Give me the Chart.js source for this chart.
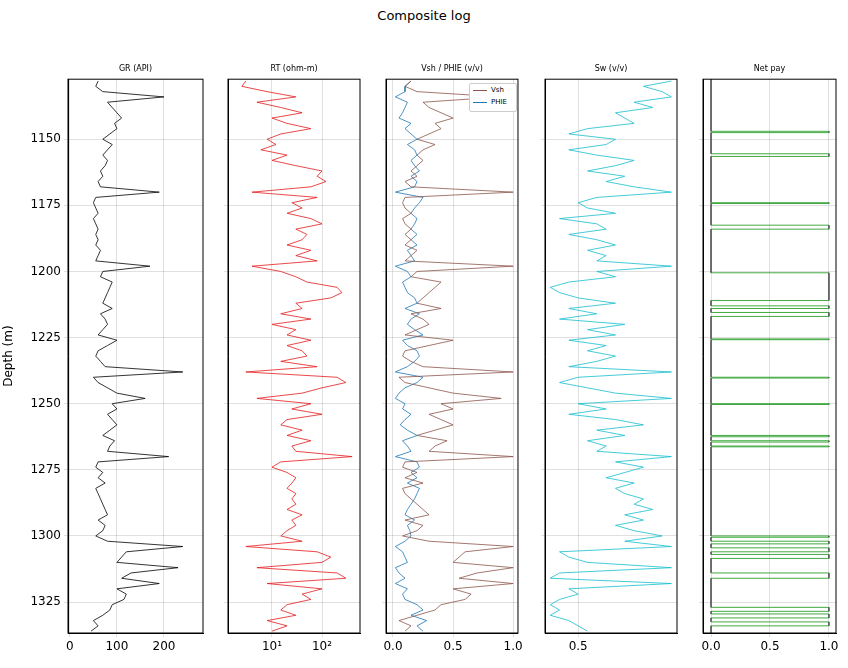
<!DOCTYPE html>
<html><head><meta charset="utf-8">
<script src="https://cdn.jsdelivr.net/npm/chart.js@4.4.1/dist/chart.umd.min.js"></script>
<style>
body{margin:0;width:848px;height:668px;background:#fff;font-family:"DejaVu Sans",sans-serif;position:relative;overflow:hidden}
canvas{position:absolute}
.t{position:absolute;font-size:8px;text-align:center;color:#000}
#leg{position:absolute;left:469px;top:83px;width:46px;height:27px;border:1px solid #ccc;border-radius:2px;background:#fff;font-size:7px;z-index:2}
#leg div{height:12px;line-height:12px;padding-left:3px}
#leg span{display:inline-block;width:14px;height:0;border-top:1px solid;vertical-align:middle;margin-right:4px}
</style></head><body>
<div class="t" style="left:0;width:848px;top:8px;font-size:13px">Composite log</div>
<div id="leg"><div><span style="border-color:#8c564b"></span>Vsh</div><div><span style="border-color:#1f77b4"></span>PHIE</div></div>
<script>
const depth = [];
for (let d = 1128; d <= 1336; d += 2) depth.push(d);

const gr = [60,55,70,200,80,90,100,110,95,100, 85,70,90,80,70,80,75,65,70,60,
  65,190,55,50,55,60,50,55,60,55, 60,55,65,60,55,170,70,65,90,85,
  80,75,70,90,65,75,80,70,60,100, 80,60,55,65,75,240,50,60,80,100,
  160,90,100,80,90,100,85,70,95,85, 80,210,60,55,70,60,75,55,60,65,
  70,75,80,60,75,70,55,80,240,120, 110,100,230,130,110,190,100,120,115,90,
  85,70,50,60,45];
const rt = [3,2.5,8,30,5,15,40,10,20,60, 15,8,12,6,20,10,30,100,80,120,
  60,4,80,25,40,20,60,100,30,50, 40,20,60,30,80,4,15,30,50,200,
  250,150,30,40,15,60,10,30,20,60, 20,40,50,15,80,3,200,300,100,40,
  5,60,25,100,20,15,40,20,60,25, 30,400,15,10,20,30,25,20,30,25,
  30,20,40,25,30,20,15,40,3,80, 150,100,5,200,300,8,100,40,60,20,
  15,30,8,20,10];
const vsh = [0.15,0.1,0.2,0.9,0.25,0.3,0.4,0.5,0.35,0.4, 0.3,0.2,0.35,0.25,0.2,0.25,0.2,0.15,0.2,0.1,
  0.15,1.0,0.1,0.08,0.1,0.15,0.08,0.1,0.15,0.1, 0.15,0.1,0.2,0.15,0.1,1.0,0.2,0.15,0.4,0.35,
  0.3,0.25,0.2,0.4,0.15,0.25,0.3,0.2,0.1,0.5, 0.3,0.1,0.08,0.15,0.25,1.0,0.05,0.1,0.3,0.5,
  0.9,0.4,0.5,0.3,0.4,0.5,0.35,0.2,0.45,0.35, 0.3,1.0,0.1,0.08,0.2,0.1,0.25,0.08,0.1,0.15,
  0.2,0.25,0.3,0.1,0.25,0.2,0.08,0.3,1.0,0.6, 0.55,0.5,1.0,0.7,0.55,1.0,0.5,0.65,0.6,0.4,
  0.35,0.2,0.05,0.15,0.1];
const phie = [0.15,0.1,0.1,0.02,0.12,0.1,0.08,0.05,0.15,0.1, 0.15,0.2,0.12,0.18,0.2,0.15,0.18,0.22,0.15,0.2,
  0.18,0.02,0.25,0.22,0.18,0.15,0.2,0.18,0.15,0.2, 0.15,0.2,0.12,0.15,0.18,0.02,0.12,0.15,0.08,0.1,
  0.12,0.18,0.2,0.1,0.22,0.15,0.12,0.18,0.25,0.08, 0.12,0.2,0.22,0.18,0.12,0.02,0.25,0.2,0.1,0.05,
  0.02,0.1,0.08,0.15,0.1,0.06,0.12,0.2,0.08,0.12, 0.15,0.02,0.2,0.22,0.15,0.2,0.12,0.22,0.2,0.18,
  0.15,0.12,0.1,0.18,0.12,0.14,0.15,0.1,0.02,0.08, 0.1,0.12,0.02,0.05,0.1,0.02,0.12,0.08,0.1,0.2,
  0.25,0.15,0.28,0.2,0.25];
const sw = [1.0,0.85,0.95,1.0,0.8,0.9,0.7,0.75,0.8,0.55, 0.45,0.7,0.65,0.45,0.6,0.8,0.7,0.55,0.75,0.65,
  0.8,1.0,0.6,0.5,0.55,0.7,0.4,0.6,0.65,0.45, 0.6,0.7,0.55,0.65,0.6,1.0,0.6,0.7,0.45,0.35,
  0.4,0.5,0.7,0.45,0.6,0.4,0.75,0.55,0.7,0.45, 0.65,0.55,0.7,0.6,0.45,1.0,0.5,0.4,0.55,0.7,
  1.0,0.5,0.65,0.45,0.7,0.85,0.6,0.75,0.55,0.65, 0.6,1.0,0.7,0.85,0.75,0.65,0.8,0.7,0.75,0.85,
  0.8,0.9,0.75,0.85,0.7,0.8,0.95,0.75,1.0,0.4, 0.45,0.55,1.0,0.4,0.35,1.0,0.45,0.5,0.4,0.35,
  0.4,0.35,0.45,0.5,0.55];
const payTop = [1147,1155.5,1174,1182.5,1200.5,1213,1215.5,1225.5,1240,1250,1262,1264,1266,1300,1302,1304.5,1307,1314,1327,1329.5,1332.5];
const payBase = [1147.5,1156.5,1174.3,1184,1211,1214,1217,1225.8,1240.3,1250.3,1262.5,1264.5,1266.3,1300.5,1303,1306,1308.5,1316,1328.5,1331,1334];
const depthTicks = [1150,1175,1200,1225,1250,1275,1300,1325];

const pts = v => v.map((x, i) => ({x, y: depth[i]}));
const netPay = [{x: 0, y: 1127}];
payTop.forEach((t, i) => {
  netPay.push({x: 0, y: t}, {x: 1, y: t}, {x: 1, y: payBase[i]}, {x: 0, y: payBase[i]});
});
netPay.push({x: 0, y: 1337});

const frame = {
  id: 'frame',
  afterDraw(chart) {
    const {ctx, chartArea: a} = chart;
    ctx.save(); ctx.strokeStyle = '#000'; ctx.lineWidth = 1;
    ctx.strokeRect(a.left, a.top, a.right - a.left, a.bottom - a.top);
    ctx.restore();
  }
};

const PLOT_TOP = 69, H = 599;
function panel(title, left, plotW, first, xcfg, datasets) {
  const W = first ? 68 : 10;
  const cv = document.createElement('canvas');
  const cw = W + plotW + 8;
  cv.style.left = (left - W) + 'px'; cv.style.top = PLOT_TOP + 'px';
  cv.style.width = cw + 'px'; cv.style.height = H + 'px';
  document.body.appendChild(cv);
  const t = document.createElement('div');
  t.className = 't'; t.textContent = title;
  t.style.left = left + 'px'; t.style.width = plotW + 'px'; t.style.top = '64px';
  document.body.appendChild(t);
  new Chart(cv, {
    type: 'scatter',
    data: {datasets},
    plugins: [frame],
    options: {
      responsive: false, animation: false,
      layout: {padding: {top: 5, right: 8, left: 0, bottom: 0}},
      plugins: {legend: {display: false}, tooltip: {enabled: false}},
      elements: {point: {radius: 0}},
      scales: {
        x: Object.assign({
          afterFit: s => { s.height = 35; },
          grid: {color: 'rgba(0,0,0,0.12)', tickLength: 4},
          border: {color: '#000'},
          ticks: {color: '#000', font: {size: 12, family: 'DejaVu Sans'}, maxRotation: 0, autoSkip: false}
        }, xcfg),
        y: {
          reverse: true, min: 1127.3, max: 1336.7,
          afterFit: s => { s.width = W; },
          afterBuildTicks: s => { s.ticks = depthTicks.map(value => ({value})); },
          grid: {color: 'rgba(0,0,0,0.12)', tickLength: 4},
          border: {color: '#000'},
          title: {display: first, text: 'Depth (m)', color: '#000', font: {size: 12, family: 'DejaVu Sans'}, padding: 2},
          ticks: {display: true, color: first ? '#000' : 'rgba(0,0,0,0)', font: {size: 12, family: 'DejaVu Sans'}, autoSkip: false,
            callback: v => String(v)}
        }
      }
    }
  });
}
const fixTicks = arr => s => { s.ticks = arr.map(value => ({value})); };
const line = (data, color) => ({data, showLine: true, borderColor: color, borderWidth: 0.8, pointRadius: 0});

panel('GR (API)', 68, 135, true,
  {min: -4, max: 283, afterBuildTicks: fixTicks([0,100,200])},
  [line(pts(gr), '#000')]);
panel('RT (ohm-m)', 228, 132, false,
  {type: 'logarithmic', min: 1.32, max: 575, afterBuildTicks: fixTicks([2,3,4,5,6,7,8,9,10,20,30,40,50,60,70,80,90,100,200,300,400,500]),
   ticks: {color: '#000', font: {size: 12, family: 'DejaVu Sans'}, autoSkip: false, maxRotation: 0,
     callback: v => v === 10 ? '10¹' : v === 100 ? '10²' : ''},
   grid: {tickLength: 4, color: c => (c.tick && (c.tick.value === 10 || c.tick.value === 100)) ? 'rgba(0,0,0,0.12)' : 'rgba(0,0,0,0)'}},
  [line(pts(rt), '#e41a1c')]);
panel('Vsh / PHIE (v/v)', 386, 132, false,
  {min: -0.058, max: 1.04, afterBuildTicks: fixTicks([0,0.5,1]), ticks: {color: '#000', font: {size: 12, family: 'DejaVu Sans'}, callback: v => v.toFixed(1)}},
  [line(pts(vsh), '#8c564b'), line(pts(phie), '#1f77b4')]);
panel('Sw (v/v)', 545, 132, false,
  {min: 0.322, max: 1.03, afterBuildTicks: fixTicks([0.5]), ticks: {color: '#000', font: {size: 12, family: 'DejaVu Sans'}, callback: v => v.toFixed(1)}},
  [line(pts(sw), '#17becf')]);
panel('Net pay', 703, 133, false,
  {min: -0.068, max: 1.06, afterBuildTicks: fixTicks([0,0.5,1]), ticks: {color: '#000', font: {size: 12, family: 'DejaVu Sans'}, callback: v => v.toFixed(1)}},
  [{data: netPay, showLine: true, borderWidth: 0.9, pointRadius: 0, borderColor: '#555',
    segment: {borderColor: c => c.p0.parsed.y === c.p1.parsed.y ? '#2ca02c' : '#555'}}]);
</script>
</body></html>
